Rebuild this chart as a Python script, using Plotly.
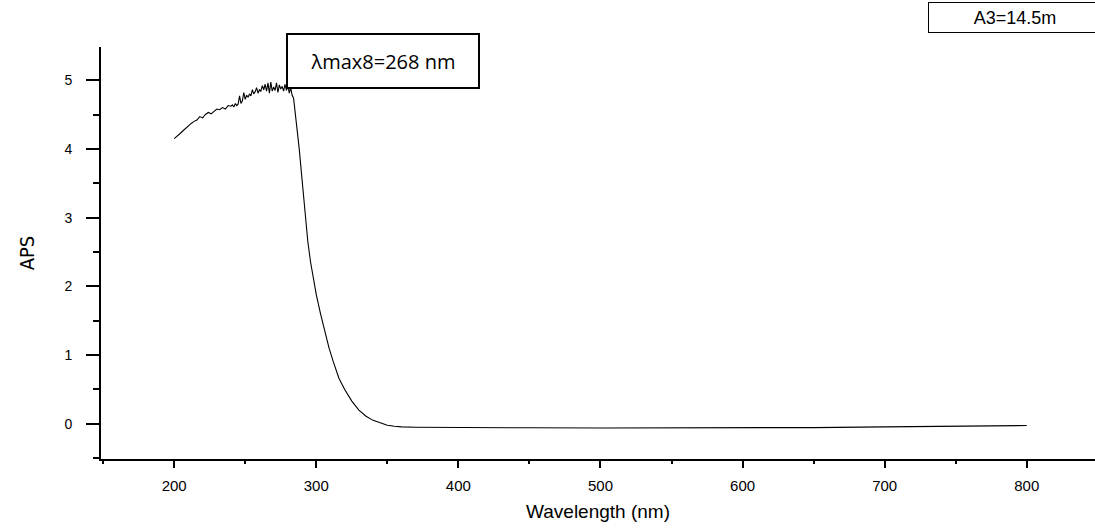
import plotly.graph_objects as go

# ---- data ----
wavelength_rise = [200, 202, 204, 206, 208, 210, 212, 214, 216, 218, 220, 222, 224, 226,
                   228, 230, 232, 234, 236, 238, 240]
aps_rise = [4.15, 4.18, 4.22, 4.26, 4.30, 4.33, 4.37, 4.40, 4.42, 4.47, 4.45, 4.50, 4.53, 4.51,
            4.55, 4.58, 4.57, 4.60, 4.58, 4.63, 4.62]

wavelength_peak = [241, 242, 243, 244, 245, 246, 247, 248, 249, 250, 251, 252, 253, 254,
                   255, 256, 257, 258, 259, 260, 261, 262, 263, 264, 265, 266, 267, 268,
                   269, 270, 271, 272, 273, 274, 275, 276, 277, 278, 279, 280, 281, 282,
                   283, 284]
aps_peak = [4.64, 4.61, 4.66, 4.63, 4.65, 4.77, 4.66, 4.70, 4.82, 4.72, 4.78, 4.75, 4.80, 4.77,
            4.86, 4.80, 4.83, 4.89, 4.81, 4.86, 4.84, 4.92, 4.86, 4.94, 4.84, 4.96, 4.81, 4.97,
            4.84, 4.90, 4.85, 4.96, 4.82, 4.93, 4.87, 4.91, 4.84, 4.94, 4.85, 4.92, 4.81, 4.89,
            4.78, 4.74]

wavelength_tail = [286, 288, 290, 292, 294, 296, 298, 300, 303, 306, 309, 312, 316, 320,
                   325, 330, 335, 340, 345, 350, 355, 360, 370, 400, 450, 500, 550, 600,
                   650, 700, 750, 800]
aps_tail = [4.40, 4.00, 3.55, 3.10, 2.66, 2.35, 2.11, 1.88, 1.60, 1.33, 1.10, 0.90, 0.66, 0.50,
            0.33, 0.20, 0.11, 0.05, 0.01, -0.02, -0.035, -0.045, -0.05, -0.055, -0.058, -0.06,
            -0.06, -0.06, -0.055, -0.045, -0.035, -0.025]

x_tick_vals = [200, 300, 400, 500, 600, 700, 800]
y_tick_vals = [0, 1, 2, 3, 4, 5]

label_peak = "λmax8=268 nm"
label_sample = "A3=14.5m"

wavelength = wavelength_rise + wavelength_peak + wavelength_tail
aps = aps_rise + aps_peak + aps_tail

fig = go.Figure()
fig.add_trace(go.Scatter(x=wavelength, y=aps, mode="lines",
                         line=dict(color="black", width=1.1), showlegend=False,
                         hoverinfo="x+y"))

W, H = 1095, 529
ml, mr, mt, mb = 101, 0, 47, 70
pw = W - ml - mr
ph = H - mt - mb

def px_x(p):
    return (p - ml) / pw

def px_y(p):
    return (H - mb - p) / ph

axis_font = dict(family="Liberation Sans, Arial, sans-serif", color="black")

fig.update_layout(
    width=W, height=H,
    margin=dict(l=ml, r=mr, t=mt, b=mb),
    paper_bgcolor="white", plot_bgcolor="white",
    xaxis=dict(
        range=[148.5, 848], showgrid=False, zeroline=False,
        showline=True, linecolor="black", linewidth=2,
        tickmode="array", tickvals=x_tick_vals,
        ticks="outside", ticklen=7, tickwidth=2, tickcolor="black",
        minor=dict(dtick=50, tick0=150, ticks="outside", ticklen=3, tickwidth=2,
                   tickcolor="black", showgrid=False),
        tickfont=dict(size=15, **axis_font),
        ticklabelstandoff=5,
        title=dict(text="Wavelength (nm)", font=dict(size=19, **axis_font), standoff=12),
    ),
    yaxis=dict(
        range=[-0.512, 5.482], showgrid=False, zeroline=False,
        showline=True, linecolor="black", linewidth=2,
        tickmode="array", tickvals=y_tick_vals,
        ticks="outside", ticklen=13, tickwidth=2, tickcolor="black",
        minor=dict(dtick=0.5, tick0=-0.5, ticks="outside", ticklen=6, tickwidth=2,
                   tickcolor="black", showgrid=False),
        tickfont=dict(size=14, **axis_font),
        ticklabelstandoff=11,
        title=dict(text="APS",
                   font=dict(size=20, color="black",
                             family="Liberation Sans Narrow, DejaVu Sans Condensed, Arial Narrow, sans-serif"),
                   standoff=24),
    ),
)

# peak label box
fig.add_annotation(
    xref="paper", yref="paper", x=px_x(286), y=px_y(33),
    xanchor="left", yanchor="top", showarrow=False,
    text=label_peak, font=dict(size=20, family="Open Sans, Noto Sans, sans-serif", color="black"),
    bordercolor="black", borderwidth=2, borderpad=0, bgcolor="white",
    width=190, height=52, align="center", valign="middle",
)

# sample label box (top right)
fig.add_annotation(
    xref="paper", yref="paper", x=px_x(928), y=px_y(2),
    xanchor="left", yanchor="top", showarrow=False,
    text=label_sample, font=dict(size=18, **axis_font),
    bordercolor="black", borderwidth=1, borderpad=0, bgcolor="white",
    width=172, height=29, align="center", valign="middle",
)

# remove the page's default body margin so the figure fills the window exactly
fig.write_html("out.html",
               config={"displayModeBar": False},
               post_script="document.body.style.margin='0';document.body.style.overflow='hidden';")
